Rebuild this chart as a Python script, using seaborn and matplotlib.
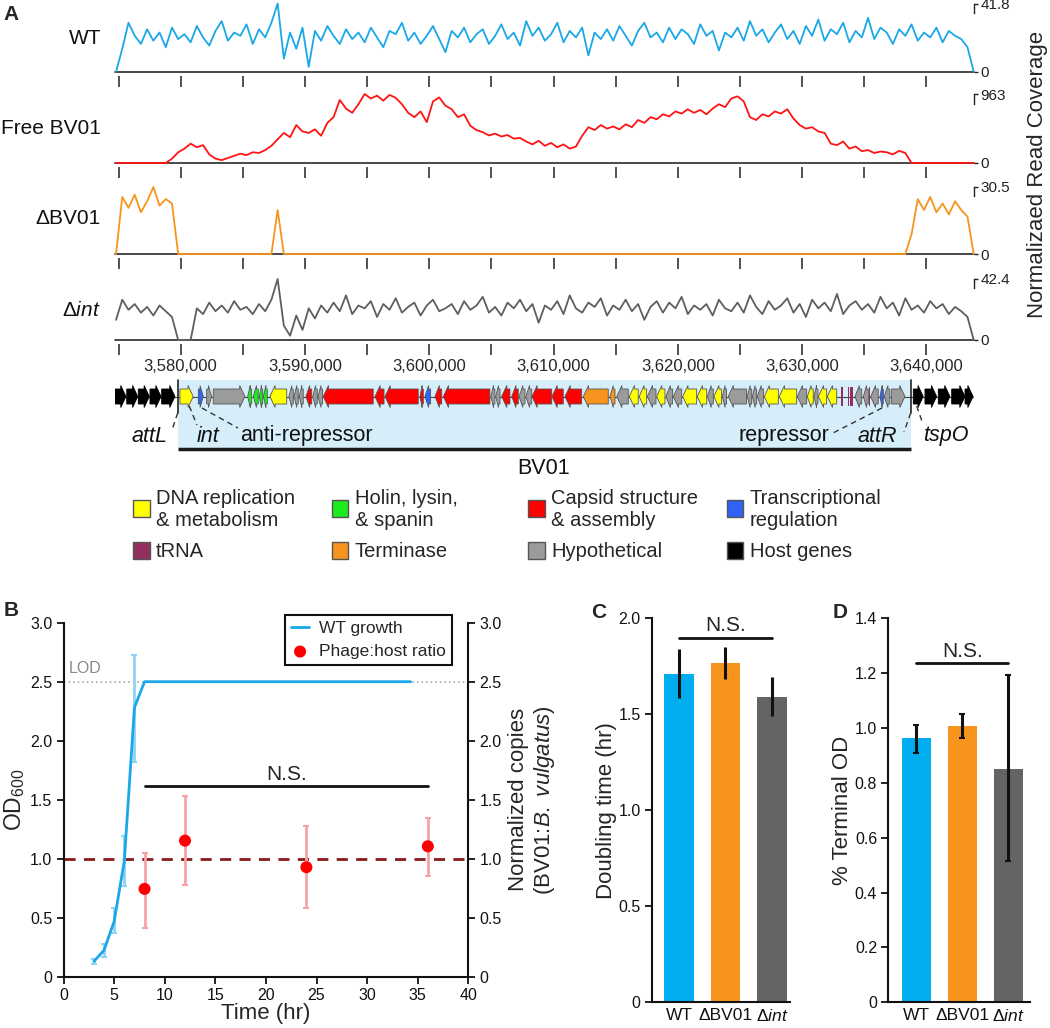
import numpy as np
import pandas as pd
import matplotlib
matplotlib.use("Agg")
import matplotlib.pyplot as plt
import seaborn as sns
from matplotlib.patches import Polygon, Rectangle
from matplotlib.ticker import FixedLocator

sns.set_theme(style="ticks")
plt.rcParams['font.family'] = ['Liberation Sans', 'DejaVu Sans']
plt.rcParams['mathtext.fontset'] = 'custom'
plt.rcParams['mathtext.rm'] = 'Liberation Sans'
plt.rcParams['mathtext.it'] = 'Liberation Sans:italic'
plt.rcParams['mathtext.bf'] = 'Liberation Sans:bold'

# ---------------- data: panel A coverage (500 bp bins from 3,574,800) ----------------
cov_start = 3574800
cov_step = 500

wt_cov = [0, 14, 30, 22, 17, 26, 19, 24, 15, 27,
          20, 23, 18, 28, 21, 16, 25, 31, 19, 24,
          22, 29, 17, 26, 21, 30, 41.8, 8, 24, 14,
          27, 3, 25, 19, 28, 22, 17, 26, 20, 24,
          18, 27, 21, 15, 25, 23, 30, 19, 24, 17,
          22, 28, 20, 12, 25, 21, 27, 18, 23, 26,
          17, 22, 29, 20, 24, 16, 31, 22, 27, 19,
          23, 30, 18, 25, 21, 27, 10, 24, 20, 26,
          19, 28, 22, 16, 25, 30, 21, 24, 18, 27,
          20, 26, 23, 17, 29, 22, 25, 13, 24, 21,
          27, 19, 31, 22, 26, 18, 24, 29, 20, 25,
          17, 28, 22, 32, 19, 26, 23, 30, 18, 25,
          21, 33, 20, 27, 24, 17, 26, 22, 29, 19,
          24, 21, 27, 18, 25, 22, 20, 15, 0]

free_cov = [0, 0, 0, 0, 0, 0, 0, 0, 0,
            60, 150, 200, 270, 220, 250, 120, 60, 40, 70,
            100, 130, 110, 150, 140, 180, 240, 330, 420, 360,
            530, 440, 420, 470, 380, 560, 640, 880, 760, 700,
            820, 963, 900, 940, 870, 950, 910, 820, 700, 640,
            720, 570, 860, 915, 800, 750, 640, 680, 520, 460,
            430, 385, 410, 370, 390, 340, 350, 300, 260, 310,
            240, 280, 220, 260, 200, 230, 380, 500, 460, 530,
            480, 510, 470, 540, 500, 600, 560, 640, 610, 680,
            650, 720, 690, 750, 700, 740, 680, 760, 820, 780,
            900, 930, 860, 640, 600, 680, 650, 720, 690, 750,
            620, 530, 480, 500, 440, 420, 270, 250, 300, 200,
            230, 165, 180, 140, 160, 150, 120, 170, 140, 0,
            0, 0, 0, 0, 0, 0, 0, 0, 0, 0]

dbv01_cov = ([0, 26, 21, 27, 19, 24, 30.5, 22, 25, 23]
             + [0] * 16 + [20] + [0] * 101
             + [9, 25, 20, 26, 19, 23, 18, 24, 20, 17, 0])

dint_cov = [14, 28, 21, 25, 19, 23, 17, 24, 20, 16, 0, 0, 0,
            22, 18, 26, 20, 24, 19, 27, 21, 23, 18, 25, 20, 28, 42.4, 10, 3, 17, 7, 22, 15, 24, 19,
            26, 20, 31, 18, 24, 22, 27, 16, 25, 21,
            29, 19, 23, 26, 17, 24, 28, 20, 22, 25,
            18, 27, 21, 24, 30, 19, 23, 17, 26, 22,
            28, 20, 25, 12, 24, 21, 27, 18, 31, 22,
            19, 26, 23, 29, 17, 24, 21, 28, 20, 25,
            14, 23, 27, 19, 26, 22, 30, 18, 24, 21,
            25, 17, 28, 22, 20, 26, 19, 31, 23, 18,
            27, 21, 24, 29, 19, 25, 16, 28, 22, 26,
            20, 32, 18, 24, 27, 21, 25, 19, 30, 22,
            26, 17, 29, 21, 24, 19, 27, 22, 25, 18,
            23, 20, 16, 0]

track_names = ['WT', 'Free BV01', 'ΔBV01', 'Δ$\\it{int}$']
track_values = [wt_cov, free_cov, dbv01_cov, dint_cov]
track_colors = ['#1AA7E8', '#FF1414', '#F7941D', '#5E5E60']
track_max = [41.8, 963, 30.5, 42.4]
track_max_labels = ['41.8', '963', '30.5', '42.4']

# ---------------- data: panel A gene map (kb) ----------------
gene_start_kb = [3574.71, 3575.66, 3576.59, 3577.53, 3578.47,
                 3579.94, 3581.42, 3582.09, 3582.62, 3585.39, 3585.84, 3586.32, 3586.65,
                 3587.18, 3588.71, 3589.12, 3589.54, 3590.08, 3590.62, 3591.05, 3591.47,
                 3595.63, 3596.44, 3599.25, 3599.65, 3600.46, 3601.13, 3604.96, 3605.34,
                 3605.82, 3606.63, 3607.22, 3607.76, 3608.26, 3609.87, 3610.92, 3612.39,
                 3614.54, 3615.08, 3616.09, 3616.89, 3617.54, 3618.29, 3619.04, 3619.63,
                 3620.39, 3621.56, 3622.37, 3622.90, 3623.57, 3624.05, 3625.58, 3625.99,
                 3626.39, 3626.95, 3628.16, 3629.61, 3630.41, 3630.95, 3631.30, 3632.02,
                 3634.25, 3634.92, 3635.51, 3636.26, 3636.60, 3637.20,
                 3638.94, 3639.88, 3640.95, 3642.03, 3643.10]
gene_end_kb = [3575.60, 3576.55, 3577.48, 3578.42, 3579.54,
               3581.01, 3581.82, 3582.49, 3585.17, 3585.71, 3586.24, 3586.60, 3586.97,
               3588.53, 3589.06, 3589.46, 3589.86, 3590.54, 3590.99, 3591.42, 3595.49,
               3596.36, 3599.11, 3599.52, 3600.11, 3601.00, 3604.88, 3605.28, 3605.69,
               3606.49, 3607.16, 3607.70, 3608.24, 3609.85, 3610.78, 3612.26, 3614.40,
               3614.94, 3616.01, 3616.81, 3617.49, 3618.24, 3618.96, 3619.58, 3620.31,
               3621.51, 3622.32, 3622.85, 3623.52, 3623.92, 3625.53, 3625.94, 3626.34,
               3626.88, 3628.08, 3629.56, 3630.36, 3630.89, 3631.27, 3631.97, 3632.78,
               3634.79, 3635.32, 3636.12, 3636.53, 3637.06, 3638.27,
               3639.74, 3640.82, 3641.89, 3643.10, 3643.75]
gene_strand = [1, 1, 1, 1, 1,
               1, 1, 1, 1, -1, -1, -1, -1,
               -1, -1, -1, -1, -1, -1, -1, -1,
               -1, -1, -1, -1, -1, -1, -1, -1,
               -1, -1, -1, -1, -1, -1, -1, -1,
               -1, -1, -1, -1, -1, -1, -1, -1,
               -1, -1, -1, -1, -1, -1, -1, -1,
               -1, -1, -1, -1, -1, -1, -1, -1,
               -1, -1, -1, -1, -1, 1,
               1, 1, 1, 1, 1]
gene_cat = ['host', 'host', 'host', 'host', 'host',
            'dna', 'reg', 'hyp', 'hyp', 'lys', 'lys', 'lys', 'lys',
            'dna', 'hyp', 'hyp', 'hyp', 'cap', 'hyp', 'hyp', 'cap',
            'cap', 'cap', 'cap', 'reg', 'cap', 'cap', 'hyp', 'hyp',
            'cap', 'cap', 'hyp', 'hyp', 'cap', 'cap', 'cap', 'ter',
            'ter', 'hyp', 'dna', 'dna', 'hyp', 'dna', 'hyp', 'hyp',
            'dna', 'dna', 'hyp', 'dna', 'hyp', 'hyp', 'hyp', 'hyp',
            'hyp', 'dna', 'dna', 'hyp', 'dna', 'hyp', 'dna', 'dna',
            'hyp', 'hyp', 'hyp', 'reg', 'hyp', 'hyp',
            'host', 'host', 'host', 'host', 'host']
trna_kb = [3633.20, 3633.74, 3633.87, 3634.01, 3635.40]
attL_bp = 3579760
attR_bp = 3638730

cat_order = ['dna', 'lys', 'cap', 'reg', 'trna', 'ter', 'hyp', 'host']
cat_colors = {'dna': '#FFFF00', 'lys': '#1EEB1E', 'cap': '#FF0000', 'reg': '#2F62F5',
              'trna': '#932F60', 'ter': '#F7941D', 'hyp': '#9B9B9B', 'host': '#000000'}
cat_labels = {'dna': 'DNA replication\n& metabolism', 'lys': 'Holin, lysin,\n& spanin',
              'cap': 'Capsid structure\n& assembly', 'reg': 'Transcriptional\nregulation',
              'trna': 'tRNA', 'ter': 'Terminase', 'hyp': 'Hypothetical', 'host': 'Host genes'}

# ---------------- data: panel B ----------------
growth_t = [3, 4, 5, 6, 7, 8, 34.3]
growth_od = [0.13, 0.225, 0.47, 0.98, 2.28, 2.5, 2.5]
growth_err_t = [3, 4, 5, 6, 7]
growth_err_lo = [0.104, 0.17, 0.37, 0.77, 1.82]
growth_err_hi = [0.152, 0.28, 0.58, 1.19, 2.73]
lod = 2.5

ratio_t = [8, 12, 24, 36]
ratio_mean = [0.744, 1.153, 0.928, 1.105]
ratio_lo = [0.414, 0.775, 0.578, 0.857]
ratio_hi = [1.05, 1.534, 1.274, 1.345]
ratio_ref = 1.0

# ---------------- data: panels C, D ----------------
strains = ['WT', 'ΔBV01', 'Δ$\\it{int}$']
strain_colors = ['#00AEEF', '#F7941D', '#646466']
doubling = [1.71, 1.766, 1.592]
doubling_lo = [1.587, 1.684, 1.493]
doubling_hi = [1.839, 1.852, 1.693]
terminal = [0.9625, 1.006, 0.852]
terminal_lo = [0.910, 0.9625, 0.516]
terminal_hi = [1.011, 1.050, 1.192]

# ---------------- figure ----------------
W, H = 1050, 1028
fig = plt.figure(figsize=(W / 100, H / 100), dpi=100)


def px_axes(l, t, r, b):
    return fig.add_axes([l / W, 1 - b / H, (r - l) / W, (b - t) / H])


XMIN, XMAX = 3574700, 3643800
TRACK_L, TRACK_R = 114.8, 973.7
track_box = [(3.5, 71.7), (94, 163), (187, 254), (279, 340)]
major = np.arange(3575000, 3640001, 5000)

for k, (vals, color, ymax, ylab, (top, bot)) in enumerate(
        zip(track_values, track_colors, track_max, track_max_labels, track_box)):
    pos = cov_start + cov_step * np.arange(len(vals))
    ax = px_axes(TRACK_L, top, TRACK_R, bot)
    ax.axhline(0, color='#3a3a3a', lw=1.3, zorder=1)
    sns.lineplot(x=pos, y=vals, color=color, lw=1.3, ax=ax, zorder=2)
    for ln in ax.lines:
        ln.set_clip_on(False)
    ax.set_xlim(XMIN, XMAX)
    ax.set_ylim(0, ymax)
    ax.set_xlabel('')
    ax.set_ylabel('')
    ax.patch.set_alpha(0)
    for s in ['top', 'left', 'bottom']:
        ax.spines[s].set_visible(False)
    ax.spines['bottom'].set_position(('outward', 3))
    ax.spines['right'].set_bounds(0.86 * ymax, ymax)
    ax.spines['right'].set_linewidth(1.0)
    ax.spines['right'].set_color('#222222')
    ax.yaxis.tick_right()
    ax.set_yticks([0, ymax])
    ax.set_yticklabels(['0', ylab], fontsize=11)
    ax.tick_params(axis='y', direction='out', length=3, width=1.0, pad=2, colors='#222222')
    ax.xaxis.set_major_locator(FixedLocator(major))
    ax.tick_params(axis='x', direction='out', length=8, width=1.2, color='#333333', pad=3)
    if k == 3:
        ax.set_xticklabels([f"{v:,}" if v % 10000 == 0 else '' for v in major], fontsize=12)
    else:
        ax.set_xticklabels([])

# gene map
axg = px_axes(TRACK_L, 374, TRACK_R, 482)
axg.set_xlim(XMIN, XMAX)
axg.set_ylim(482, 374)
axg.axis('off')
yc = 396.5
axg.add_patch(Rectangle((attL_bp, 380), attR_bp - attL_bp, 68, fc='#D6EEFA', ec='none', zorder=0))
axg.plot([attL_bp, attR_bp], [449.3, 449.3], color='#1a1a1a', lw=2.5, solid_capstyle='butt')
axg.plot([gene_start_kb[0] * 1000, gene_end_kb[-1] * 1000], [yc, yc], color='#444444', lw=0.8, zorder=1)
for s, e, st, c in zip(gene_start_kb, gene_end_kb, gene_strand, gene_cat):
    s, e = s * 1000, e * 1000
    h = min(420, 0.65 * (e - s))
    body, head = 7.5, 11
    if st > 0:
        pts = [(s, yc - body), (e - h, yc - body), (e - h, yc - head), (e, yc),
               (e - h, yc + head), (e - h, yc + body), (s, yc + body)]
    else:
        pts = [(e, yc - body), (s + h, yc - body), (s + h, yc - head), (s, yc),
               (s + h, yc + head), (s + h, yc + body), (e, yc + body)]
    ec = '#000000' if c == 'host' else '#555555'
    axg.add_patch(Polygon(pts, closed=True, fc=cat_colors[c], ec=ec, lw=0.6, zorder=2))
for t in trna_kb:
    axg.add_patch(Rectangle((t * 1000 - 45, yc - 9.5), 90, 19, fc=cat_colors['trna'], ec='none', zorder=3))

for xb in [attL_bp, attR_bp]:
    axg.plot([xb, xb], [380, 413], color='#222222', lw=1.2, zorder=4)
dash = dict(color='#333333', lw=1.0, ls=(0, (4, 3)), zorder=4)
axg.plot([attL_bp, 3579300], [413, 430], **dash)
axg.plot([attR_bp, 3638190], [413, 432], **dash)
axg.plot([3580690, 3581310], [406, 425], **dash)
axg.plot([3581710, 3584610], [408, 428], **dash)
axg.plot([3636420, 3632480], [408, 433], **dash)
axg.plot([3639210, 3639690], [406, 423], **dash)
lab = dict(fontsize=15.5, va='center', ha='center', color='#111111')
axg.text(3577530, 436, 'attL', style='italic', **lab)
axg.text(3582200, 436, 'int', style='italic', **lab)
axg.text(3590120, 436, 'anti-repressor', **lab)
axg.text(3628535, 436, 'repressor', **lab)
axg.text(3636058, 436, 'attR', style='italic', **lab)
axg.text(3641568, 436, 'tspO', style='italic', **lab)
axg.text(3609230, 468, 'BV01', **lab)

# ---------------- panel B ----------------
axb = px_axes(63.6, 622.7, 468.3, 976.7)
axb.axhline(lod, color='#9a9a9a', lw=1.1, ls=(0, (1, 2)), zorder=1)
axb.axhline(ratio_ref, color='#8B1A1A', lw=2, ls=(0, (4, 3)), zorder=1)
g_od = np.array(growth_od[:len(growth_err_t)])
axb.errorbar(growth_err_t, g_od, yerr=[g_od - np.array(growth_err_lo), np.array(growth_err_hi) - g_od],
             fmt='none', ecolor='#8CD4F5', elinewidth=2, capsize=2, capthick=1.5, zorder=2)
sns.lineplot(x=growth_t, y=growth_od, color='#1AA7E8', lw=2, ax=axb, label='WT growth', zorder=3)
r_m = np.array(ratio_mean)
axb.errorbar(ratio_t, r_m, yerr=[r_m - np.array(ratio_lo), np.array(ratio_hi) - r_m],
             fmt='none', ecolor='#F7A3A3', elinewidth=2, capsize=2, capthick=1.5, zorder=3)
sns.scatterplot(x=ratio_t, y=ratio_mean, color='#FF0000', s=75, edgecolor='none', ax=axb,
                label='Phage:host ratio', zorder=4)
axb.plot([8, 36], [1.618, 1.618], color='#111111', lw=2)
axb.text(22, 1.71, 'N.S.', ha='center', va='center', fontsize=15)
axb.text(0.55, 2.61, 'LOD', color='#8a8a8a', fontsize=11.5, va='center', ha='left')
axb.set_xlim(0, 40)
axb.set_ylim(0, 3.0)
axb.set_xticks(np.arange(0, 41, 5))
axb.set_xticklabels([str(v) for v in range(0, 41, 5)], fontsize=11.5)
bt = [0, 0.5, 1.0, 1.5, 2.0, 2.5, 3.0]
axb.set_yticks(bt)
axb.set_yticklabels(['0'] + [f"{v:.1f}" for v in bt[1:]], fontsize=11.5)
axb.set_xlabel('Time (hr)', fontsize=16)
axb.set_ylabel('OD$_{600}$', fontsize=16.5)
axb.xaxis.set_label_coords(0.5, -0.075)
axb.yaxis.set_label_coords(-0.091, 0.5)
for s in ['top', 'right']:
    axb.spines[s].set_visible(False)
for s in ['left', 'bottom']:
    axb.spines[s].set_linewidth(1.5)
    axb.spines[s].set_color('#111111')
axb.tick_params(direction='out', length=5, width=1.3, pad=3, colors='#111111')
handles, labels = axb.get_legend_handles_labels()
axb.legend(handles, labels, loc='upper right', bbox_to_anchor=(0.96, 1.022), fontsize=12.5,
           frameon=True, fancybox=False, framealpha=1, edgecolor='#111111', handlelength=1.0,
           borderpad=0.35, labelspacing=0.45, handletextpad=0.6, borderaxespad=0)
axb.get_legend().get_frame().set_linewidth(1.5)

axb2 = axb.twinx()
axb2.set_ylim(0, 3.0)
axb2.set_yticks(bt)
axb2.set_yticklabels(['0'] + [f"{v:.1f}" for v in bt[1:]], fontsize=11.5)
for s in ['top', 'left', 'bottom']:
    axb2.spines[s].set_visible(False)
axb2.spines['right'].set_linewidth(1.5)
axb2.spines['right'].set_color('#111111')
axb2.tick_params(direction='out', length=5, width=1.3, pad=3, colors='#111111')
axb2.set_ylabel('Normalized copies\n(BV01:$\\it{B.}$ $\\it{vulgatus}$)', fontsize=16, linespacing=1.15)
axb2.yaxis.set_label_coords(1.098, 0.5)

# ---------------- panels C and D ----------------
def bar_panel(box, values, lo, hi, xlim, ymax, yticks, ylabel, sig_y, sig_text_y, cap, label_x):
    ax = px_axes(*box)
    df = pd.DataFrame({'strain': strains, 'value': values})
    sns.barplot(data=df, x='strain', y='value', hue='strain', order=strains, hue_order=strains,
                palette=dict(zip(strains, strain_colors)), width=0.64, errorbar=None,
                legend=False, saturation=1, linewidth=0, ax=ax)
    v = np.array(values)
    ax.errorbar(range(3), v, yerr=[v - np.array(lo), np.array(hi) - v], fmt='none', ecolor='#111111',
                elinewidth=2.2, capsize=cap, capthick=1.5, zorder=5)
    ax.plot([0, 2], [sig_y, sig_y], color='#111111', lw=2)
    ax.text(1, sig_text_y, 'N.S.', ha='center', va='center', fontsize=15)
    ax.set_xlim(*xlim)
    ax.set_ylim(0, ymax)
    ax.set_yticks(yticks)
    ax.set_yticklabels(['0'] + [f"{t:.1f}" for t in yticks[1:]], fontsize=11.5)
    ax.set_xticks(range(3))
    ax.set_xticklabels(strains, fontsize=12.5)
    ax.set_xlabel('')
    ax.set_ylabel(ylabel, fontsize=16)
    ax.yaxis.set_label_coords(label_x, 0.5)
    for s in ['top', 'right']:
        ax.spines[s].set_visible(False)
    for s in ['left', 'bottom']:
        ax.spines[s].set_linewidth(1.5)
        ax.spines[s].set_color('#111111')
    ax.tick_params(axis='y', direction='out', length=5, width=1.3, pad=3, colors='#111111')
    ax.tick_params(axis='x', length=0, pad=4, colors='#111111')
    return ax


bar_panel((651.7, 618.3, 790, 1002.3), doubling, doubling_lo, doubling_hi, (-0.59, 2.39), 2.0,
          [0, 0.5, 1.0, 1.5, 2.0], 'Doubling time (hr)', 1.899, 1.96, 0, -0.251)
bar_panel((888.3, 618.3, 1030, 1002.3), terminal, terminal_lo, terminal_hi, (-0.61, 2.47), 1.4,
          [0, 0.2, 0.4, 0.6, 0.8, 1.0, 1.2, 1.4], '% Terminal OD', 1.236, 1.278, 2.5, -0.247)

# ---------------- overlay: panel letters, track names, legend ----------------
ov = fig.add_axes([0, 0, 1, 1])
ov.set_xlim(0, W)
ov.set_ylim(H, 0)
ov.axis('off')
for letter, (x, y) in zip('ABCD', [(10.7, 15), (10.7, 610), (598.6, 613), (840, 613)]):
    ov.text(x, y, letter, fontsize=15, fontweight='bold', ha='center', va='center')
for name, y in zip(track_names, [38, 128, 218, 310]):
    ov.text(101, y, name, fontsize=15, ha='right', va='center', color='#111111')
ov.text(1038, 174, 'Normalizaed Read Coverage', rotation=90, fontsize=16, ha='center', va='center')

leg_x = [133, 331.7, 528, 726.7]
leg_y = [508.5, 550.5]
for i, c in enumerate(cat_order):
    x = leg_x[i % 4]
    y = leg_y[i // 4]
    ov.add_patch(Rectangle((x, y - 8.3), 16.7, 16.7, fc=cat_colors[c], ec='#555555', lw=1.0))
    ov.text(x + 23, y + 1, cat_labels[c], fontsize=14.5, ha='left', va='center', linespacing=1.18)

fig.savefig('out.png', dpi=100)
